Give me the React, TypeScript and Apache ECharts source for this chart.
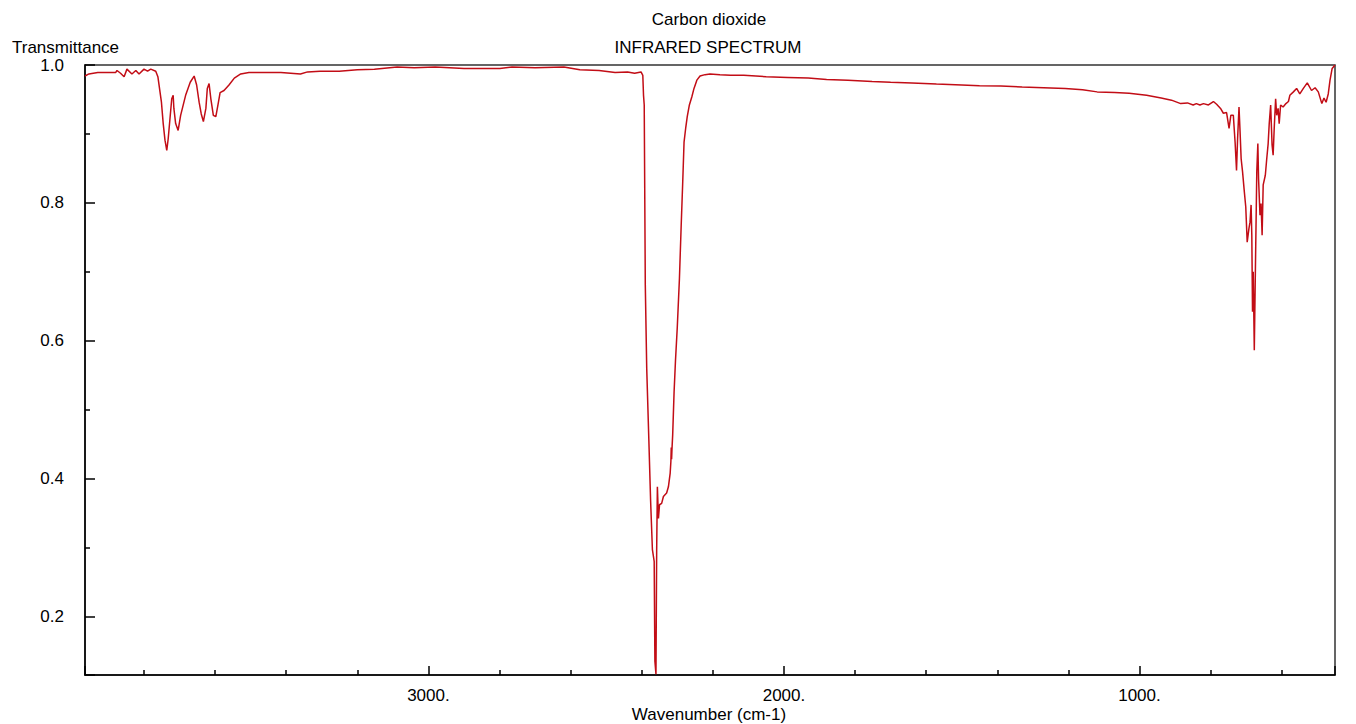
import React, { useEffect, useRef } from "react";
import * as echarts from "echarts";

const FONT = "'Liberation Sans', Arial, sans-serif";
const LINE_COLOR = "#c20d16";

// [wavenumber (cm-1), transmittance]
const overtoneBands: [number, number][] = [
  [3966, 0.984], [3955, 0.987], [3930, 0.989], [3880, 0.989], [3876, 0.992], [3866, 0.988],
  [3856, 0.983], [3848, 0.994], [3834, 0.987], [3823, 0.992], [3814, 0.987], [3800, 0.994],
  [3790, 0.991], [3781, 0.994], [3767, 0.991], [3761, 0.983], [3751, 0.946], [3746, 0.915],
  [3741, 0.891], [3736, 0.876], [3732, 0.893], [3727, 0.922], [3722, 0.951], [3718, 0.956],
  [3716, 0.937], [3711, 0.915], [3704, 0.905], [3697, 0.927], [3683, 0.956], [3670, 0.975],
  [3659, 0.984], [3652, 0.971], [3645, 0.946], [3639, 0.929], [3633, 0.918], [3626, 0.937],
  [3622, 0.966], [3617, 0.973], [3612, 0.951], [3605, 0.927], [3598, 0.925], [3592, 0.942],
  [3586, 0.96], [3575, 0.963], [3561, 0.971], [3546, 0.981], [3528, 0.987],
];

const baselineHigh: [number, number][] = [
  [3505, 0.989], [3450, 0.989], [3415, 0.989], [3360, 0.987], [3340, 0.99], [3305, 0.991],
  [3251, 0.991], [3200, 0.993], [3152, 0.994], [3088, 0.997], [3040, 0.996], [2981, 0.997],
  [2900, 0.995], [2799, 0.995], [2765, 0.997], [2700, 0.996], [2619, 0.997], [2574, 0.993],
  [2520, 0.992], [2475, 0.989], [2440, 0.99], [2420, 0.988], [2402, 0.99],
];

const stretchBand: [number, number][] = [
  [2397, 0.985], [2395, 0.956], [2393, 0.942], [2390, 0.681], [2386, 0.56], [2380, 0.456],
  [2375, 0.367], [2370, 0.297], [2365, 0.28], [2363, 0.135], [2360, 0.116], [2358, 0.297],
  [2356, 0.388], [2353, 0.342], [2350, 0.362], [2344, 0.364], [2339, 0.374], [2330, 0.379],
  [2325, 0.388], [2320, 0.408], [2318, 0.425], [2317, 0.445], [2316, 0.428], [2315, 0.442],
  [2313, 0.463], [2309, 0.526], [2305, 0.572], [2300, 0.62], [2294, 0.69], [2289, 0.768],
  [2285, 0.826], [2281, 0.888], [2276, 0.91], [2272, 0.925], [2266, 0.942], [2259, 0.954],
  [2253, 0.966], [2245, 0.978], [2236, 0.984], [2222, 0.986], [2208, 0.987],
];

const baselineLow: [number, number][] = [
  [2180, 0.986], [2150, 0.985], [2113, 0.985], [2050, 0.983], [1990, 0.982], [1932, 0.981],
  [1880, 0.979], [1820, 0.978], [1752, 0.976], [1700, 0.975], [1640, 0.974], [1571, 0.9725],
  [1500, 0.971], [1450, 0.97], [1390, 0.9696], [1330, 0.968], [1270, 0.967], [1209, 0.966],
  [1160, 0.964], [1119, 0.961], [1070, 0.96], [1029, 0.959], [980, 0.956], [939, 0.952],
  [910, 0.949], [884, 0.944], [865, 0.945], [849, 0.942], [840, 0.944],
];

const bendBand: [number, number][] = [
  [830, 0.942], [820, 0.944], [806, 0.942], [792, 0.947], [783, 0.943], [772, 0.937],
  [764, 0.93], [755, 0.931], [748, 0.908], [743, 0.927], [736, 0.927], [731, 0.888],
  [727, 0.847], [724, 0.893], [720, 0.939], [717, 0.903], [714, 0.864], [710, 0.845],
  [705, 0.816], [701, 0.794], [697, 0.743], [692, 0.763], [689, 0.772], [686, 0.797],
  [684, 0.753], [682, 0.642], [680, 0.7], [677, 0.586], [674, 0.7], [670, 0.845],
  [667, 0.886], [665, 0.835], [661, 0.782], [658, 0.799], [655, 0.753], [652, 0.826],
  [646, 0.84], [642, 0.864], [638, 0.886], [635, 0.915], [631, 0.942], [627, 0.884],
  [624, 0.869], [621, 0.908], [617, 0.951], [614, 0.927], [610, 0.937], [607, 0.915],
  [603, 0.942], [596, 0.939], [588, 0.944], [581, 0.947], [577, 0.956], [567, 0.961],
  [558, 0.966], [549, 0.958], [539, 0.966], [528, 0.974], [516, 0.963], [506, 0.967],
  [497, 0.961], [487, 0.944], [481, 0.952], [475, 0.946], [469, 0.958], [464, 0.978],
  [458, 0.995], [450, 1.0],
];

const X_MIN = 450;
const X_MAX = 3966;
const Y_MIN = 0.115;
const Y_MAX = 1.0;

export default function App() {
  const ref = useRef<HTMLDivElement>(null);

  useEffect(() => {
    if (!ref.current) return;
    const chart = echarts.init(ref.current, null, { renderer: "svg" });
    const data = [...overtoneBands, ...baselineHigh, ...stretchBand, ...baselineLow, ...bendBand];
    const textBase = { fontSize: 17, fontFamily: FONT, fill: "#000" };

    chart.setOption({
      animation: false,
      backgroundColor: "#ffffff",
      grid: {
        left: 85,
        right: 21,
        top: 65,
        bottom: 49,
        show: true,
        borderColor: "#333",
        borderWidth: 1.5,
        backgroundColor: "transparent",
      },
      xAxis: {
        type: "value",
        min: X_MIN,
        max: X_MAX,
        inverse: true,
        splitNumber: 4,
        axisLine: { show: true, lineStyle: { color: "#000", width: 1.5 } },
        axisTick: { show: true, inside: true, length: 9, lineStyle: { color: "#000", width: 1.5 } },
        minorTick: { show: true, splitNumber: 5, length: 5, lineStyle: { color: "#000", width: 1.5 } },
        axisLabel: {
          showMinLabel: false,
          showMaxLabel: false,
          margin: 12,
          color: "#000",
          fontSize: 17,
          fontFamily: FONT,
          formatter: (v: number) => `${v}.`,
        },
        splitLine: { show: false },
        minorSplitLine: { show: false },
      },
      yAxis: {
        type: "value",
        min: Y_MIN,
        max: Y_MAX,
        splitNumber: 5,
        axisLine: { show: true, lineStyle: { color: "#000", width: 1.5 } },
        axisTick: { show: true, inside: true, length: 10, lineStyle: { color: "#000", width: 1.5 } },
        minorTick: { show: true, splitNumber: 2, length: 5, lineStyle: { color: "#000", width: 1.5 } },
        axisLabel: {
          showMinLabel: false,
          margin: 21,
          color: "#000",
          fontSize: 17,
          fontFamily: FONT,
          formatter: (v: number) => v.toFixed(1),
        },
        splitLine: { show: false },
        minorSplitLine: { show: false },
      },
      graphic: [
        { type: "text", x: 709, y: 19, style: { ...textBase, text: "Carbon dioxide", align: "center", verticalAlign: "middle" } },
        { type: "text", x: 708, y: 47, style: { ...textBase, text: "INFRARED SPECTRUM", align: "center", verticalAlign: "middle" } },
        { type: "text", x: 12, y: 47, style: { ...textBase, text: "Transmittance", align: "left", verticalAlign: "middle" } },
        { type: "text", x: 709, y: 723, style: { ...textBase, text: "Wavenumber (cm-1)", align: "center", verticalAlign: "bottom" } },
      ],
      series: [
        {
          type: "line",
          data,
          showSymbol: false,
          silent: true,
          lineStyle: { color: LINE_COLOR, width: 1.5 },
          itemStyle: { color: LINE_COLOR },
        },
      ],
    });

    return () => chart.dispose();
  }, []);

  return (
    <div
      ref={ref}
      style={{ position: "fixed", left: 0, top: 0, width: 1356, height: 724, background: "#fff" }}
    />
  );
}
